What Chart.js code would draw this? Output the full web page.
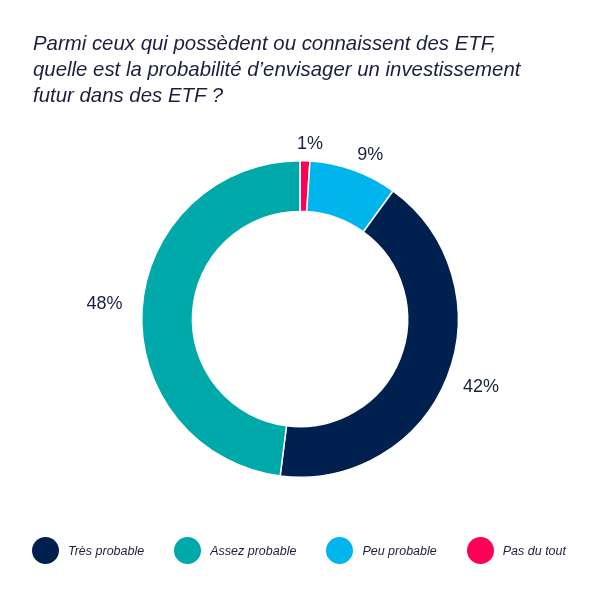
<!DOCTYPE html>
<html>
<head>
<meta charset="utf-8">
<script src="https://cdn.jsdelivr.net/npm/chart.js@4.4.0/dist/chart.umd.min.js"></script>
<style>
  body { margin: 0; background: #fff; font-family: "Liberation Sans", Arial, sans-serif; }
  #wrap { position: relative; width: 596px; height: 595px; overflow: hidden; }
  #chart { position: absolute; left: 0; top: 0; }
  #title { position: absolute; left: 33px; top: 30px; font-size: 20.4px; line-height: 26px; font-style: italic; color: #1c1f3d; }
  #legend { position: absolute; left: 32px; top: 537px; display: flex; align-items: center; gap: 30px; }
  .item { display: flex; align-items: center; }
  .dot { width: 27px; height: 27px; border-radius: 50%; margin-right: 9px; }
  .lbl { font-size: 12.5px; font-style: italic; color: #1c1f3d; }
</style>
</head>
<body>
<div id="wrap">
  <canvas id="chart" width="596" height="595"></canvas>
  <div id="title">Parmi ceux qui possèdent ou connaissent des ETF,<br>quelle est la probabilité d’envisager un investissement<br>futur dans des ETF ?</div>
  <div id="legend"></div>
</div>
<script>
// slices, clockwise from the top
const categories = ["Pas du tout", "Peu probable", "Très probable", "Assez probable"];
const values = [1, 9, 42, 48];
const colors = ["#ff0058", "#00b5ec", "#002050", "#00a9a9"];
const legendOrder = ["Très probable", "Assez probable", "Peu probable", "Pas du tout"];

const legend = document.getElementById("legend");
legendOrder.forEach(function (name) {
    const i = categories.indexOf(name);
    const item = document.createElement("div");
    item.className = "item";
    item.innerHTML = '<div class="dot" style="background:' + colors[i] + '"></div><span class="lbl">' + name + '</span>';
    legend.appendChild(item);
});

const outsideLabels = {
    id: "outsideLabels",
    afterDatasetsDraw(chart) {
        const ctx = chart.ctx;
        const meta = chart.getDatasetMeta(0);
        ctx.save();
        ctx.font = '18px "Liberation Sans", Arial, sans-serif';
        ctx.fillStyle = "#16213f";
        ctx.textAlign = "center";
        ctx.textBaseline = "middle";
        meta.data.forEach(function (arc, i) {
            const mid = (arc.startAngle + arc.endAngle) / 2 + 0.02;
            const x = arc.x + Math.cos(mid) * (arc.outerRadius + 38);
            const y = arc.y + Math.sin(mid) * (arc.outerRadius + 17);
            ctx.fillText(values[i] + "%", x, y);
        });
        ctx.restore();
    }
};

new Chart(document.getElementById("chart").getContext("2d"), {
    type: "doughnut",
    data: {
        labels: categories,
        datasets: [{
            data: values,
            backgroundColor: colors,
            borderColor: "#ffffff",
            borderWidth: 1.5
        }]
    },
    options: {
        responsive: false,
        animation: false,
        cutout: "68%",
        layout: { padding: { left: 141, right: 137, top: 160, bottom: 117 } },
        plugins: {
            legend: { display: false },
            tooltip: { enabled: false }
        }
    },
    plugins: [outsideLabels]
});
</script>
</body>
</html>
